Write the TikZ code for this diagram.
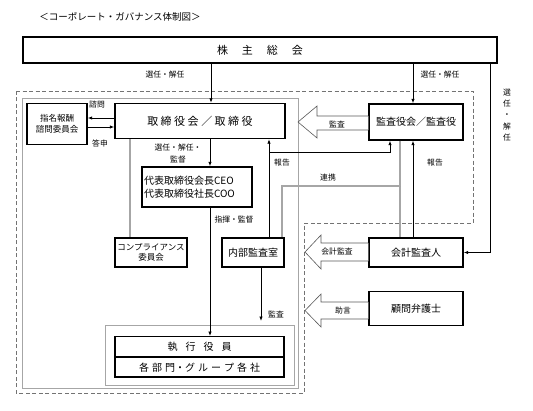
\documentclass[tikz,border=0pt]{standalone}
\usepackage{fontspec}
\setmainfont{Noto Sans CJK JP}
\usetikzlibrary{arrows.meta}
\begin{document}
\begin{tikzpicture}[x=1pt,y=-1pt,
  box/.style={draw,line width=1.4pt,fill=white,inner sep=0pt,align=center,font=\fontsize{10}{12}\selectfont},
  lbl/.style={font=\fontsize{7.8}{9}\selectfont,inner sep=0pt},
  arr/.style={line width=0.8pt,-{Latex[length=4.5pt,width=3.5pt]}},
  dbl/.style={draw=black!85,line width=0.6pt,double=black!35,double distance=1.2pt},
  grayframe/.style={draw=black!35,line width=0.8pt},
  dashframe/.style={draw=black!55,line width=1pt,dash pattern=on 4pt off 2.5pt},
  blockarrow/.style={draw=black!65,line width=0.6pt,fill=white,line join=miter}
]
\fill[white] (0,0) rectangle (533,410);
\useasboundingbox (0,0) rectangle (533,410);

% frames
\draw[dashframe] (16,91) -- (473,91) -- (473,223) -- (304,223) -- (304,393) -- (16,393) -- cycle;
\draw[grayframe] (22,98) rectangle (298,388);
\draw[grayframe] (105,325) rectangle (294,385);

% title
\node[inner sep=0pt,font=\fontsize{9.5}{11}\selectfont] (title) at (120,17) {＜コーポレート・ガバナンス体制図＞};

% boxes
\node[box,minimum width=474pt,minimum height=26pt,font=\fontsize{11}{13}\selectfont] (sh) at (260,50) {株\hspace{14pt}主\hspace{14pt}総\hspace{14pt}会};
\node[box,minimum width=170pt,minimum height=35pt,font=\fontsize{11}{13}\selectfont] (board) at (200,121) {取\hspace{2.5pt}締\hspace{2.5pt}役\hspace{2.5pt}会\hspace{2.5pt}／\hspace{2.5pt}取\hspace{2.5pt}締\hspace{2.5pt}役};
\node[box,minimum width=60pt,minimum height=41pt,font=\fontsize{8.5}{11}\selectfont] (nom) at (57,124) {指名報酬\\諮問委員会};
\node[box,minimum width=94pt,minimum height=36pt] (kansa) at (416,122) {監査役会／監査役};
\node[box,inner xsep=2pt,text width=106pt,align=left,minimum height=40pt,font=\fontsize{10}{13}\selectfont] (ceo) at (197,187) {代表取締役会長CEO\\代表取締役社長COO};
\node[box,minimum width=72pt,minimum height=29pt,font=\fontsize{8.5}{10.5}\selectfont] (comp) at (151,252.5) {コンプライアンス\\委員会};
\node[box,minimum width=62pt,minimum height=29pt] (naibu) at (253,252.5) {内部監査室};
\node[box,minimum width=94pt,minimum height=29pt] (kaikei) at (416,252.5) {会計監査人};
\node[box,minimum width=94pt,minimum height=34pt] (komon) at (416,308.5) {顧問弁護士};
\node[box,minimum width=169pt,minimum height=19.5pt] (exec) at (199.5,346.5) {執\hspace{8pt}行\hspace{8pt}役\hspace{8pt}員};
\node[box,minimum width=169pt,minimum height=19.5pt,anchor=north] (dept) at (exec.south) {各\hspace{3pt}部\hspace{3pt}門・グ\hspace{3pt}ル\hspace{3pt}ー\hspace{3pt}プ\hspace{3pt}各\hspace{3pt}社};

% connector x positions
\coordinate (xa) at (211,0);
\coordinate (xb) at (413,0);
\coordinate (xc) at (490,0);
\coordinate (xd) at (210,0);
\coordinate (xe) at (130,0);
\coordinate (xf) at (269,0);
\coordinate (xg) at (390,0);
\coordinate (xh) at (400,0);
\coordinate (xi) at (282,0);
\coordinate (xj) at (261,0);
\coordinate (ya) at (0,118);
\coordinate (yb) at (0,127);
\coordinate (yc) at (0,152);
\coordinate (yd) at (0,186);
\coordinate (auditend) at (261,321);

% connectors
\draw[arr] (sh.south -| xa) -- (board.north -| xa);
\draw[arr] (sh.south -| xb) -- (kansa.north -| xb);
\draw[arr] (sh.south -| xc) |- (kaikei.east);
\draw[arr] (board.west |- ya) -- (nom.east |- ya);
\draw[arr] (nom.east |- yb) -- (board.west |- yb);
\draw[arr] (board.south -| xd) -- (ceo.north -| xd);
\draw[arr] (ceo.south -| xd) -- (exec.north -| xd);
\draw[dbl] (board.south -| xe) -- (comp.north -| xe);
\draw[arr] (naibu.north -| xf) -- (board.south -| xf);
\draw[arr] (xf |- yc) -| (kansa.south -| xg);
\draw[dbl] (kansa.south -| xh) -- (kaikei.north -| xh);
\draw[dbl] (xh |- yd) -| (naibu.north -| xi);
\draw[arr] (kaikei.north -| xb) -- (kansa.south -| xb);
\draw[arr] (naibu.south -| xj) -- (auditend);

% block arrows
\draw[blockarrow] (kansa.west |- 0,116) -- (317,116) -- (317,106) -- (298,122) -- (317,138) -- (317,130) -- (kansa.west |- 0,130);
\draw[blockarrow] (kaikei.west |- 0,243) -- (321,243) -- (321,235) -- (305,252) -- (321,269) -- (321,261) -- (kaikei.west |- 0,261);
\draw[blockarrow] (komon.west |- 0,302) -- (321,302) -- (321,294) -- (305,310.5) -- (321,327) -- (321,319) -- (komon.west |- 0,319);

% labels
\node[lbl] (l1) at (165,75) {選任・解任};
\node[lbl] (l2) at (440,75) {選任・解任};
\node[lbl,align=center,font=\fontsize{7.8}{11.3}\selectfont] (l3) at (507,115) {選\\任\\・\\解\\任};
\node[lbl] (l4) at (97,105) {諮問};
\node[lbl] (l5) at (100,143) {答申};
\node[lbl,align=center,font=\fontsize{7.8}{12}\selectfont] (l6) at (178,154) {選任・解任・\\監督};
\node[lbl] (l7) at (234,220) {指揮・監督};
\node[lbl] (l8) at (282,163) {報告};
\node[lbl] (l9) at (328,178) {連携};
\node[lbl] (l10) at (435,163) {報告};
\node[lbl] (l11) at (337,124) {監査};
\node[lbl] (l12) at (337,252) {会計監査};
\node[lbl] (l13) at (343,310.5) {助言};
\node[lbl] (l14) at (276,314) {監査};
\end{tikzpicture}
\end{document}
